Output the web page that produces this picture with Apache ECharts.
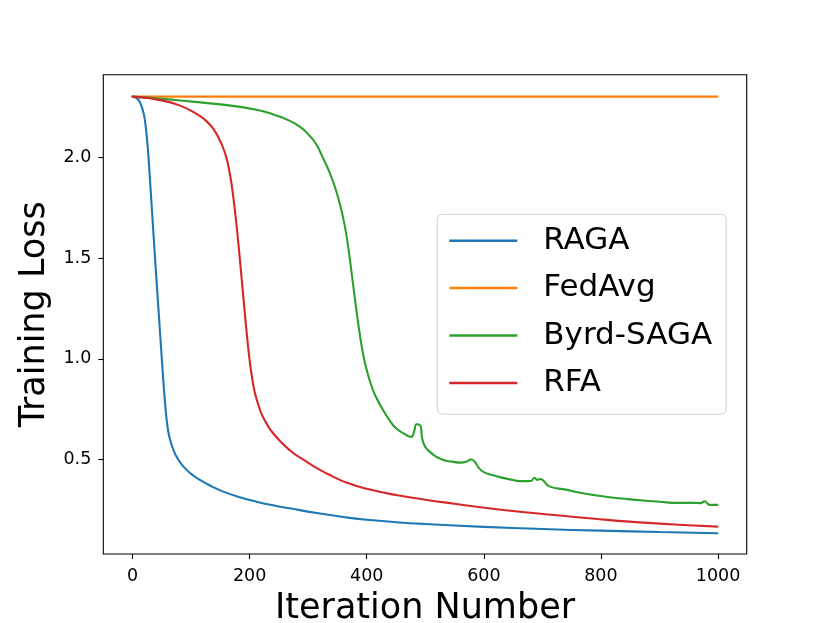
<!DOCTYPE html>
<html>
<head>
<meta charset="utf-8">
<script src="https://cdn.jsdelivr.net/npm/echarts@6/dist/echarts.min.js"></script>
<style>html,body{margin:0;padding:0;background:#fff}#c{width:830px;height:623px}</style>
</head>
<body>
<div id="c"></div>
<script>
var seriesNames = ['RAGA', 'FedAvg', 'Byrd-SAGA', 'RFA'];
var xTicks = [0, 200, 400, 600, 800, 1000];
var yTicks = [0.5, 1.0, 1.5, 2.0];

var raga_x = [0, 5, 10, 14, 17, 20, 22, 24, 26, 28, 30, 33, 36, 40, 45, 50, 53, 56, 59, 63, 70, 78, 87, 100, 115, 135, 155, 180, 212, 240, 268, 320, 365, 400, 450, 500, 600, 700, 800, 900, 999];
var raga_y = [2.303, 2.298, 2.287, 2.265, 2.24, 2.205, 2.165, 2.115, 2.05, 1.97, 1.88, 1.745, 1.61, 1.43, 1.215, 1.0, 0.875, 0.765, 0.68, 0.61, 0.545, 0.50, 0.464, 0.428, 0.398, 0.366, 0.340, 0.315, 0.290, 0.272, 0.257, 0.231, 0.212, 0.200, 0.188, 0.179, 0.165, 0.154, 0.146, 0.139, 0.133];

var fedavg_x = [0, 250, 500, 750, 999];
var fedavg_y = [2.303, 2.303, 2.303, 2.303, 2.303];

var byrd_x = [0, 50, 101, 158, 214, 243, 263, 285, 302, 314, 325, 336, 345, 353, 359, 365, 370, 376, 382, 388, 394, 400, 407, 415, 428, 440, 450, 467, 476, 481, 485, 491, 496, 507, 530, 546, 560, 570, 578, 584, 592, 600, 615, 627, 645, 661, 680, 687, 691, 696, 712, 740, 758, 790, 815, 845, 872, 900, 929, 957, 970, 977, 986, 999];
var byrd_y = [2.303, 2.292, 2.278, 2.262, 2.237, 2.212, 2.19, 2.155, 2.11, 2.065, 2.00, 1.93, 1.86, 1.781, 1.71, 1.62, 1.52, 1.385, 1.25, 1.125, 1.02, 0.945, 0.875, 0.815, 0.745, 0.69, 0.655, 0.622, 0.612, 0.64, 0.675, 0.671, 0.588, 0.54, 0.498, 0.489, 0.484, 0.488, 0.5, 0.49, 0.456, 0.437, 0.422, 0.412, 0.401, 0.392, 0.393, 0.409, 0.398, 0.403, 0.366, 0.35, 0.338, 0.322, 0.312, 0.303, 0.296, 0.29, 0.284, 0.284, 0.283, 0.292, 0.274, 0.274];

var rfa_x = [0, 20, 44, 78, 107, 130, 146, 158, 166, 172, 177, 181, 186, 192, 197, 201, 205, 209, 215, 223, 240, 268, 297, 320, 340, 365, 400, 450, 500, 550, 615, 680, 730, 790, 843, 900, 950, 999];
var rfa_y = [2.303, 2.298, 2.287, 2.262, 2.221, 2.171, 2.104, 2.022, 1.922, 1.806, 1.68, 1.565, 1.41, 1.22, 1.07, 0.97, 0.89, 0.83, 0.77, 0.71, 0.630, 0.547, 0.489, 0.448, 0.418, 0.385, 0.354, 0.323, 0.300, 0.280, 0.255, 0.235, 0.221, 0.205, 0.192, 0.181, 0.173, 0.166];

var colors = ['#1f77b4', '#ff7f0e', '#2ca02c', '#d62728'];
function pairs(xs, ys) { return xs.map(function (x, i) { return [x, ys[i]]; }); }
var allData = [pairs(raga_x, raga_y), pairs(fedavg_x, fedavg_y), pairs(byrd_x, byrd_y), pairs(rfa_x, rfa_y)];

var font = 'DejaVu Sans';
var chart = echarts.init(document.getElementById('c'), null, { renderer: 'canvas' });
chart.setOption({
  animation: false,
  backgroundColor: '#fff',
  grid: { left: 103.3, right: 83.3, top: 74.7, bottom: 69, containLabel: false, outerBoundsMode: 'none', show: true, borderColor: '#000', borderWidth: 1.1, backgroundColor: 'transparent' },
  xAxis: {
    type: 'value', min: -49.95, max: 1048.95,
    name: 'Iteration Number', nameLocation: 'middle', nameGap: 37,
    nameTextStyle: { fontFamily: font, fontSize: 35, color: '#000' },
    axisLine: { show: false, onZero: false },
    splitLine: { show: false },
    axisTick: { show: true, inside: false, length: 5, lineStyle: { color: '#000', width: 1.1 }, customValues: xTicks },
    axisLabel: { color: '#000', fontFamily: font, fontSize: 17.5, margin: 13, customValues: xTicks, formatter: function (v) { return String(Math.round(v)); } }
  },
  yAxis: {
    type: 'value', min: 0.030, max: 2.412,
    name: 'Training Loss', nameLocation: 'middle', nameGap: 42,
    nameTextStyle: { fontFamily: font, fontSize: 35, color: '#000' },
    axisLine: { show: false, onZero: false },
    splitLine: { show: false },
    axisTick: { show: true, inside: false, length: 5, lineStyle: { color: '#000', width: 1.1 }, customValues: yTicks },
    axisLabel: { color: '#000', fontFamily: font, fontSize: 17.5, margin: 12, customValues: yTicks, formatter: function (v) { return v.toFixed(1); } }
  },
  legend: {
    orient: 'vertical', left: 437.3, top: 214.3,
    padding: [8.4, 14, 13.3, 12],
    itemGap: 11.4,
    itemWidth: 68, itemHeight: 2.5,
    icon: 'rect',
    borderColor: '#d4d4d4', borderWidth: 1.1, borderRadius: 5,
    backgroundColor: 'rgba(255,255,255,0.8)',
    textStyle: { fontFamily: font, fontSize: 31, color: '#000', lineHeight: 36, padding: [0, 0, 0, 21] },
    data: seriesNames
  },
  series: seriesNames.map(function (n, i) {
    return {
      name: n, type: 'line', data: allData[i], showSymbol: false, symbol: 'none',
      smooth: 0.5,
      color: colors[i],
      lineStyle: { color: colors[i], width: 2.1, join: 'round', cap: 'round' },
      z: i + 2
    };
  })
});
</script>
</body>
</html>
